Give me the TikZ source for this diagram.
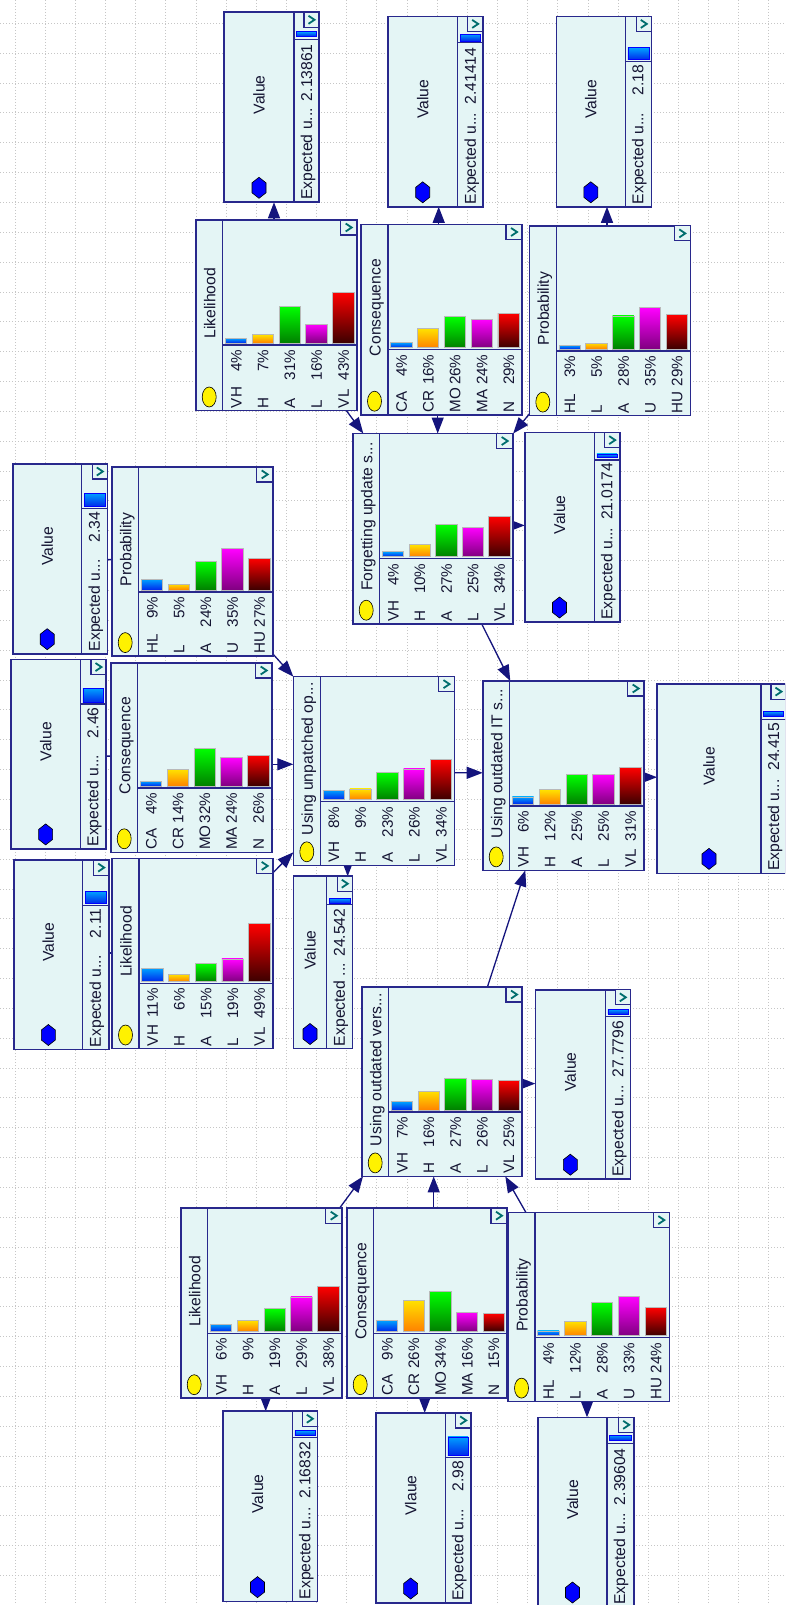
\documentclass[tikz,border=0pt]{standalone}
\usepackage{fontspec}
\setmainfont{Liberation Sans}
\usetikzlibrary{arrows.meta,calc,fit}
\definecolor{boxfill}{RGB}{228,245,245}
\definecolor{boxline}{RGB}{40,40,140}
\definecolor{arrowc}{RGB}{20,20,125}
\definecolor{chev}{RGB}{0,110,110}
\definecolor{txt}{RGB}{20,20,50}
\definecolor{bt0}{RGB}{0,160,255}\definecolor{bb0}{RGB}{0,40,235}
\definecolor{bt1}{RGB}{255,225,0}\definecolor{bb1}{RGB}{255,130,0}
\definecolor{bt2}{RGB}{0,255,0}\definecolor{bb2}{RGB}{0,128,0}
\definecolor{bt3}{RGB}{255,0,255}\definecolor{bb3}{RGB}{128,0,128}
\definecolor{bt4}{RGB}{255,0,0}\definecolor{bb4}{RGB}{60,0,0}
\pgfdeclarelayer{gridl}\pgfdeclarelayer{arrl}
\pgfsetlayers{gridl,arrl,main}
\newcommand\tfont{\fontsize{15.7}{18}\selectfont}
\newcommand\lfont{\fontsize{15.2}{17}\selectfont}
\tikzset{
 box/.style={fill=boxfill, draw=boxline, line width=1.6pt},
 sep/.style={draw=boxline, line width=1.3pt},
 btn/.style={fill=boxfill, draw=boxline, line width=1.2pt},
 chevron/.style={draw=chev, line width=1.8pt},
 rlab/.style={rotate=90, inner sep=0pt, outer sep=0pt, text=txt, font=\lfont, text height=10.9pt, text depth=0pt},
 rtit/.style={rotate=90, inner sep=0pt, outer sep=0pt, text=txt, font=\tfont, text height=11.2pt, text depth=0pt},
 arr/.style={draw=arrowc, line width=1.3pt, -{Triangle[length=16pt,width=12pt]}},
 conn/.style={draw=arrowc, line width=1.3pt},
 gridline/.style={draw=gray!45, line width=0.7pt, dash pattern=on 1pt off 2pt},
}
\newcommand\cnode[7]{%
 \node[fit={(#2,#3) (#4,#5)}, inner sep=0pt, outer sep=0pt] (#1) {};
 \path[box] (#2,#3) rectangle (#4,#5);
 \draw[sep] ({#2+27},#3) -- ({#2+27},#5);
 \draw[sep] ({#2+27},{#3+125}) -- (#4,{#3+125});
 \path[btn] ({#4-16},#3) rectangle (#4,{#3+15});
 \draw[chevron] ({#4-11},{#3+3.5}) -- ({#4-5},{#3+7.5}) -- ({#4-11},{#3+11.5});
 \filldraw[fill=yellow, draw=black, line width=0.6pt] ({#2+13.5},{#5-13.5}) ellipse [x radius=7pt, y radius=10pt];
 \node[rtit] at ({#2+14},{(#3+#5-24)/2}) {#6};
 \foreach \s/\p [count=\i from 0] in {#7} {
   \pgfmathsetmacro\cxl{#2+27+\i*(#4-#2-27)/5}
   \pgfmathsetmacro\bh{max(3,\p*1.18)}
   \shadedraw[top color=bt\i, bottom color=bb\i, draw=gray!55, line width=0.7pt] ({\cxl+2.7},{#3+123}) rectangle ({\cxl+24},{#3+123-\bh});
   \node[rlab, anchor=west] at ({\cxl+13.4},{#5-2.5}) {\s};
   \node[rlab, anchor=east] at ({\cxl+13.4},{#3+130}) {\p\%};
 }
}
\newcommand\vparams[4]{\def\vbt{#1}\def\vbb{#2}\def\vvd{#3}\def\vtt{#4}}
\newcommand\vlabel{Expected u...}
\newcommand\vnode[8]{%
 \node[fit={(#2,#3) (#4,#5)}, inner sep=0pt, outer sep=0pt] (#1) {};
 \path[box] (#2,#3) rectangle (#4,#5);
 \draw[sep] (#6,#3) -- (#6,#5);
 \path[btn] ({#4-15},#3) rectangle (#4,{#3+15});
 \draw[chevron] ({#4-10.5},{#3+3.5}) -- ({#4-4.5},{#3+7.5}) -- ({#4-10.5},{#3+11.5});
 \shadedraw[top color=bt0, bottom color=bb0, draw=blue, line width=0.6pt] ({#6+2.5},{#3+\vbt}) rectangle ({#4-2.5},{#3+\vbb});
 \draw[sep] (#6,{#3+\vvd}) -- (#4,{#3+\vvd});
 \node[rtit, anchor=west] at ({#6+12.5},{#5-2.5}) {\vlabel};
 \node[rtit, anchor=east] at ({#6+12.5},{#3+\vtt}) {#8};
 \node[rtit] at ({(#2+#6)/2},{(#3+#5-25)/2}) {#7};
 \filldraw[fill=blue, draw=black, line width=0.6pt] ({(#2+#6)/2},{#5-25}) -- ++(7,5.5) -- ++(0,10) -- ++(-7,5.5) -- ++(-7,-5.5) -- ++(0,-10) -- cycle;
}
\begin{document}
\begin{tikzpicture}[x=1pt,y=-1pt]
\useasboundingbox (0,0) rectangle (785,1605);
\clip (0,0) rectangle (785,1605);
\begin{pgfonlayer}{gridl}
 \fill[white] (0,0) rectangle (785,1605);
 \foreach \gx in {0,...,25} \draw[gridline] ({15+\gx*30.15},0) -- ({15+\gx*30.15},1605);
 \foreach \gy in {0,...,53} \draw[gridline] (0,{23.2+\gy*29.85}) -- (785,{23.2+\gy*29.85});
\end{pgfonlayer}
% chance nodes
\cnode{L1}{195.7}{220}{356.7}{410.5}{Likelihood}{VH/4,H/7,A/31,L/16,VL/43}
\cnode{C1}{361}{224.5}{522}{414.7}{Consequence}{CA/4,CR/16,MO/26,MA/24,N/29}
\cnode{P1}{529.3}{225.9}{690.3}{415.6}{Probability}{HL/3,L/5,A/28,U/35,HU/29}
\cnode{F}{352.7}{433.5}{512.7}{623.7}{Forgetting update s...}{VH/4,H/10,A/27,L/25,VL/34}
\cnode{P2}{111.7}{466.9}{272.7}{656.1}{Probability}{HL/9,L/5,A/24,U/35,HU/27}
\cnode{C2}{110.7}{663}{271.7}{852.3}{Consequence}{CA/4,CR/14,MO/32,MA/24,N/26}
\cnode{L2}{112}{858.4}{272.7}{1048.5}{Likelihood}{VH/11,H/6,A/15,L/19,VL/49}
\cnode{U}{293.3}{676.6}{454.5}{865.3}{Using unpatched op...}{VH/8,H/9,A/23,L/26,VL/34}
\cnode{IT}{482.7}{681}{643.7}{870.4}{Using outdated IT s...}{VH/6,H/12,A/25,L/25,VL/31}
\cnode{OV}{361.7}{987}{522}{1176.4}{Using outdated vers...}{VH/7,H/16,A/27,L/26,VL/25}
\cnode{L3}{180.7}{1208.2}{341.7}{1398.2}{Likelihood}{VH/6,H/9,A/19,L/29,VL/38}
\cnode{C3}{346.7}{1208.2}{507}{1398.2}{Consequence}{CA/9,CR/26,MO/34,MA/16,N/15}
\cnode{P3}{508}{1212.6}{669.3}{1401.6}{Probability}{HL/4,L/12,A/28,U/33,HU/24}
% value nodes
\vparams{19.4}{23.9}{26.9}{32}\vnode{V1}{224}{12.3}{319}{202.3}{294}{Value}{2.13861}
\vparams{17.7}{24.5}{26.2}{31.4}\vnode{V2}{387.7}{16.4}{482.7}{206.8}{457.7}{Value}{2.41414}
\vparams{31.4}{43.3}{45}{48.4}\vnode{V3}{556.3}{16.4}{651.3}{206.8}{625.3}{Value}{2.18}
\vparams{21.2}{24.6}{27.4}{30.5}\vnode{VF}{524.7}{432.6}{619.7}{622}{594.3}{Value}{21.0174}
\vparams{29}{42.7}{44.4}{48}\vnode{VP2}{12.7}{464}{107.3}{653.7}{81.7}{Value}{2.34}
\vparams{29}{42.7}{44.4}{48}\vnode{VC2}{11}{659.5}{106}{848.9}{80.3}{Value}{2.46}
\vparams{31.4}{43.4}{45.1}{48.5}\vnode{VL2}{14}{860.1}{108.7}{1049.5}{82.7}{Value}{2.11}
\renewcommand\vlabel{Expected ...}
\vparams{22.2}{26.7}{28.3}{32.4}\vnode{VU}{293.3}{876.2}{352.3}{1048.5}{326.7}{Value}{24.542}
\renewcommand\vlabel{Expected u...}
\vparams{27.3}{31.7}{35.1}{38.5}\vnode{VIT}{657}{684.1}{786}{873.4}{761}{Value}{24.415}
\vparams{19.6}{24}{26.5}{31}\vnode{VOV}{535.3}{989.8}{630.3}{1179.2}{605.3}{Value}{27.7796}
\vparams{19.4}{24.5}{26.6}{31}\vnode{VL3}{222.7}{1411.2}{317.3}{1601.6}{292.3}{Value}{2.16832}
\vparams{23.9}{42.6}{44.3}{48}\vnode{VC3}{376}{1412.9}{470.7}{1603}{445.3}{Vlaue}{2.98}
\vparams{17.7}{22.9}{26.3}{31}\vnode{VP3}{538}{1417.3}{633.7}{1607}{607}{Value}{2.39604}
% connectors
\begin{pgfonlayer}{arrl}
\draw[arr] ($(L1.north west)+(78.3,10)$) -- ($(V1.north west)+(50,190)$);
\draw[arr] ($(C1.north west)+(77.7,10)$) -- ($(V2.north west)+(51,190.4)$);
\draw[arr] ($(P1.north west)+(77.7,10)$) -- ($(V3.north west)+(50.7,190.4)$);
\draw[arr] ($(L1.north west)+(144.3,182)$) -- ($(F.north west)+(10.6,0)$);
\draw[arr] ($(C1.north west)+(76.7,180)$) -- ($(F.north west)+(85,0)$);
\draw[arr] ($(P1.north west)+(6.7,180)$) -- ($(F.north west)+(160.5,0)$);
\draw[arr] ($(F.north west)+(150,91.9)$) -- ($(VF.north west)+(0,92.8)$);
\draw[arr] ($(F.north west)+(124.3,181)$) -- ($(IT.north west)+(27.6,0)$);
\draw[arr] ($(P2.north west)+(154.3,179.4)$) -- (U.north west);
\draw[arr] ($(C2.north west)+(151.3,101.3)$) -- ($(U.north west)+(0,87.7)$);
\draw[arr] ($(L2.north west)+(153,22.3)$) -- ($(U.north west)+(0,175.7)$);
\draw[arr] ($(U.north west)+(54.4,178)$) -- ($(VU.north west)+(54.4,0)$);
\draw[arr] ($(U.north west)+(151.7,96.2)$) -- ($(IT.north west)+(0,91.8)$);
\draw[arr] ($(IT.north west)+(152.3,96.2)$) -- ($(VIT.north west)+(0,93.1)$);
\draw[arr] ($(OV.north west)+(122.3,10.5)$) -- ($(IT.north west)+(42.6,189.4)$);
\draw[arr] ($(L3.north west)+(152.3,8.8)$) -- ($(OV.north west)+(1.3,189.4)$);
\draw[arr] ($(C3.north west)+(87,9.8)$) -- ($(OV.north west)+(72,189.4)$);
\draw[arr] ($(P3.north west)+(23,8.7)$) -- ($(OV.north west)+(143.6,189.4)$);
\draw[arr] ($(L3.north west)+(85,179.8)$) -- ($(VL3.north west)+(43,0)$);
\draw[arr] ($(C3.north west)+(78,179.8)$) -- ($(VC3.north west)+(48.7,0)$);
\draw[arr] ($(P3.north west)+(79,179)$) -- ($(VP3.north west)+(49,0)$);
\draw[arr] ($(OV.north west)+(150.3,96.6)$) -- ($(VOV.north west)+(0,93.8)$);
\draw[conn] ($(P2.north west)+(8,92.7)$) -- ($(VP2.north west)+(94.6,95.6)$);
\draw[conn] ($(C2.north west)+(8,93.1)$) -- ($(VC2.north west)+(95,96.6)$);
\draw[conn] ($(L2.north west)+(8,94.6)$) -- ($(VL2.north west)+(94.7,92.9)$);
\end{pgfonlayer}
\end{tikzpicture}
\end{document}
